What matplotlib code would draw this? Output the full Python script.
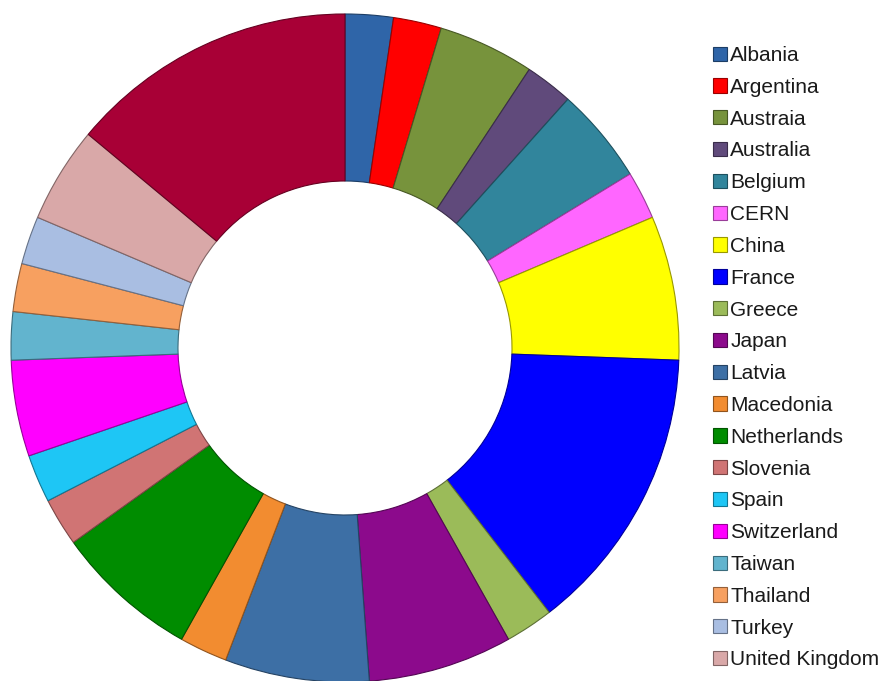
import matplotlib
matplotlib.use("Agg")
import matplotlib.pyplot as plt
from matplotlib.colors import to_rgb

countries = ["Albania", "Argentina", "Austraia", "Australia", "Belgium", "CERN",
             "China", "France", "Greece", "Japan", "Latvia", "Macedonia",
             "Netherlands", "Slovenia", "Spain", "Switzerland", "Taiwan",
             "Thailand", "Turkey", "United Kingdom", "USA"]
values = [1, 1, 2, 1, 2, 1, 3, 6, 1, 3, 3, 1, 3, 1, 1, 2, 1, 1, 1, 2, 6]
colors = ["#2F65A8", "#FF0000", "#77933C", "#604A7B", "#31859C", "#FF66FF",
          "#FFFF00", "#0000FF", "#9BBB59", "#8C0A8C", "#3D6FA5", "#F28C30",
          "#008C00", "#D07474", "#1EC6F5", "#FF00FF", "#62B4CE",
          "#F7A060", "#A9BEE2", "#D9A8A8", "#A80036"]
legend_count = 20  # the legend in the reference shows the first 20 entries

plt.rcParams['font.family'] = ['Liberation Sans', 'DejaVu Sans']

fig = plt.figure(figsize=(8.81, 6.81), dpi=100)
R = 334
cx, cy = 345, 681 - 348
ax = fig.add_axes([(cx - R) / 881, (cy - R) / 681, 2 * R / 881, 2 * R / 681])

def darker(c, f=0.6):
    r, g, b = to_rgb(c)
    return (r * f, g * f, b * f)

wedges, _ = ax.pie(values, colors=colors, startangle=90, counterclock=False,
                   radius=1.0,
                   wedgeprops=dict(width=0.5, linewidth=0.8))
for w, c in zip(wedges, colors):
    w.set_edgecolor(darker(c))
ax.set_xlim(-1.0, 1.0)
ax.set_ylim(-1.0, 1.0)
ax.set_aspect('equal')
ax.axis('off')

leg = fig.legend(wedges[:legend_count], countries[:legend_count],
                 loc='upper left', bbox_to_anchor=(713 / 881, 1 - 46 / 681),
                 frameon=False, fontsize=15, handlelength=0.68,
                 handleheight=0.68, handletextpad=0.15, labelspacing=0.615,
                 borderpad=0, borderaxespad=0)
for t in leg.get_texts():
    t.set_color('#1a1a1a')

fig.savefig("out.png", dpi=100)
